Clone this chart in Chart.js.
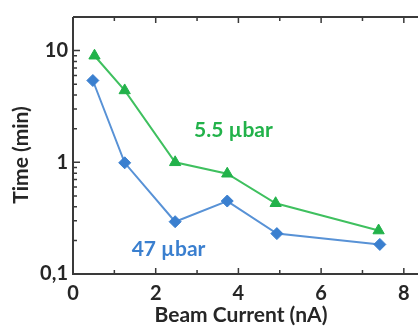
<!DOCTYPE html>
<html>
<head>
<meta charset="utf-8">
<script src="https://cdn.jsdelivr.net/npm/chart.js@4"></script>
<style>
html,body{margin:0;padding:0;background:#fff;overflow:hidden;width:418px;height:327px;}
#wrap{position:relative;width:432px;height:327px;}
</style>
</head>
<body>
<div id="wrap"><canvas id="c" width="432" height="327"></canvas></div>
<script>
// Data
const beamCurrent55 = [0.52, 1.25, 2.47, 3.73, 4.90, 7.39];
const time55 = [9.0, 4.4, 1.0, 0.79, 0.43, 0.245];
const beamCurrent47 = [0.48, 1.25, 2.47, 3.73, 4.93, 7.42];
const time47 = [5.4, 0.99, 0.294, 0.45, 0.23, 0.184];
const yTickValues = [0.1, 1, 10];
const yTickLabels = ['0,1', '1', '10'];
const xTickValues = [0, 2, 4, 6, 8];
const seriesLabels = ['5.5 µbar', '47 µbar'];
const xTitle = 'Beam Current (nA)';
const yTitle = 'Time (min)';

const GREEN = '#22b24a';
const GREEN_LINE = '#3fc05f';
const BLUE = '#3a7fcf';
const BLUE_LINE = '#5892d6';
const AXIS = '#3a3a3a';
const TEXT = '#262626';
const FONT = 'Lato';

const toXY = (xs, ys) => xs.map((x, i) => ({x: x, y: ys[i]}));

const axisPlugin = {
  id: 'axisDeco',
  afterDraw(chart) {
    const {ctx, chartArea: a, scales: {x, y}} = chart;
    const rightEdge = x.getPixelForValue(8.5);
    ctx.save();
    ctx.strokeStyle = AXIS;
    ctx.lineWidth = 2;
    ctx.beginPath();
    ctx.moveTo(a.left, a.top); ctx.lineTo(a.right + 20, a.top);
    ctx.moveTo(a.left, a.top); ctx.lineTo(a.left, a.bottom);
    ctx.moveTo(a.left - 1, a.bottom); ctx.lineTo(a.right + 20, a.bottom);
    ctx.stroke();
    ctx.lineWidth = 1.5;
    ctx.beginPath();
    // x ticks (bottom & top, inward)
    for (let v = 0; v <= 8; v++) {
      const px = x.getPixelForValue(v);
      const len = v % 2 === 0 ? 6 : 4;
      ctx.moveTo(px, a.bottom); ctx.lineTo(px, a.bottom - len);
      ctx.moveTo(px, a.top); ctx.lineTo(px, a.top + len);
    }
    // y ticks (left, inward)
    [0.1, 1, 10].forEach(d => {
      for (let m = 1; m <= 9; m++) {
        const v = d * m;
        if (v > y.max + 1e-9) continue;
        const py = y.getPixelForValue(v);
        const len = m === 1 ? 7 : 4;
        ctx.moveTo(a.left, py); ctx.lineTo(a.left + len, py);
      }
    });
    ctx.stroke();
    // faint right-axis major ticks
    ctx.strokeStyle = '#8a8a8a';
    ctx.beginPath();
    [1, 10].forEach(v => {
      const py = y.getPixelForValue(v);
      ctx.moveTo(rightEdge, py); ctx.lineTo(rightEdge - 6, py);
    });
    ctx.stroke();
    // axis titles
    ctx.fillStyle = TEXT;
    ctx.font = 'bold 21px ' + FONT;
    ctx.textAlign = 'center';
    ctx.textBaseline = 'middle';
    ctx.fillText(xTitle, 241, 315);
    ctx.save();
    ctx.translate(21, 155);
    ctx.rotate(-Math.PI / 2);
    ctx.fillText(yTitle, 0, 0);
    ctx.restore();
    // series labels
    ctx.font = 'bold 21px ' + FONT;
    ctx.fillStyle = GREEN;
    ctx.fillText(seriesLabels[0], x.getPixelForValue(3.88), y.getPixelForValue(1.93));
    ctx.fillStyle = BLUE;
    ctx.fillText(seriesLabels[1], x.getPixelForValue(2.31), y.getPixelForValue(0.165));
    ctx.restore();
  }
};

new Chart(document.getElementById('c'), {
  type: 'scatter',
  data: {
    datasets: [
      {
        label: seriesLabels[0],
        data: toXY(beamCurrent55, time55),
        showLine: true,
        borderColor: GREEN_LINE,
        borderWidth: 2,
        pointStyle: 'triangle',
        pointRadius: 6.5,
        pointBackgroundColor: GREEN,
        pointBorderColor: GREEN,
        pointBorderWidth: 1
      },
      {
        label: seriesLabels[1],
        data: toXY(beamCurrent47, time47),
        showLine: true,
        borderColor: BLUE_LINE,
        borderWidth: 2,
        pointStyle: 'rectRot',
        pointRadius: 6,
        pointBackgroundColor: BLUE,
        pointBorderColor: BLUE,
        pointBorderWidth: 1
      }
    ]
  },
  options: {
    responsive: false,
    animation: false,
    events: [],
    layout: {padding: {top: 14, right: 0, left: 0, bottom: 0}},
    plugins: {legend: {display: false}, tooltip: {enabled: false}},
    scales: {
      x: {
        type: 'linear',
        min: 0, max: 8.5,
        grid: {display: false, drawTicks: false},
        border: {display: false},
        afterBuildTicks(s) { s.ticks = xTickValues.map(v => ({value: v})); },
        afterFit(s) { s.height = 53; },
        ticks: {
          color: TEXT,
          padding: 8,
          font: {family: FONT, size: 20, weight: 'bold'},
          maxRotation: 0,
          callback: v => String(v)
        }
      },
      y: {
        type: 'logarithmic',
        min: 0.1, max: 20,
        grid: {display: false, drawTicks: false},
        border: {display: false},
        afterBuildTicks(s) { s.ticks = yTickValues.map(v => ({value: v})); },
        afterFit(s) { s.width = 73; },
        ticks: {
          color: TEXT,
          padding: 5,
          font: {family: FONT, size: 20, weight: 'bold'},
          callback: (v) => yTickLabels[yTickValues.findIndex(t => Math.abs(t - v) < 1e-9)]
        }
      }
    }
  },
  plugins: [axisPlugin]
});
</script>
</body>
</html>
